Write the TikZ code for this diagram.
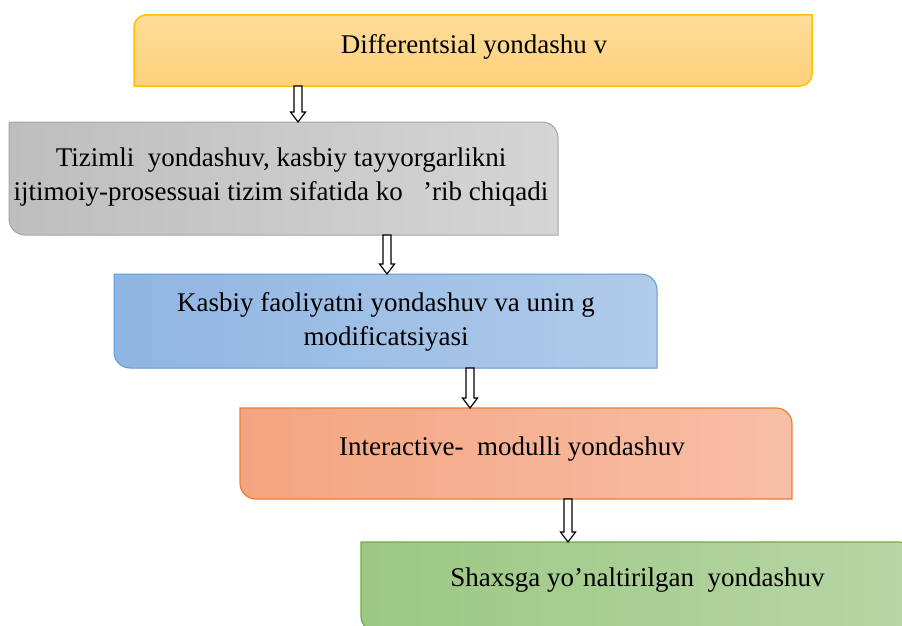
\documentclass[tikz,border=0pt]{standalone}
\usepackage{fontspec}
\setmainfont{Liberation Serif}
\usetikzlibrary{calc}
\definecolor{ylTop}{RGB}{254,220,154}
\definecolor{ylBot}{RGB}{254,209,122}
\definecolor{ylLine}{RGB}{255,192,0}
\definecolor{gyL}{RGB}{190,190,190}
\definecolor{gyR}{RGB}{213,213,213}
\definecolor{gyLine}{RGB}{165,165,165}
\definecolor{blL}{RGB}{143,181,226}
\definecolor{blR}{RGB}{177,203,234}
\definecolor{blLine}{RGB}{91,155,213}
\definecolor{orL}{RGB}{244,164,128}
\definecolor{orR}{RGB}{247,191,167}
\definecolor{orLine}{RGB}{237,125,49}
\definecolor{grL}{RGB}{156,200,131}
\definecolor{grR}{RGB}{183,214,166}
\definecolor{grLine}{RGB}{112,173,71}
\tikzset{
  boxnode/.style={rectangle, inner sep=0pt, outer sep=0pt, draw=none},
  lbl/.style={inner sep=0pt, anchor=base, align=center, font=\fontsize{27}{34}\selectfont},
  barrow/.style={draw=black, fill=white, line width=1.2pt, line join=miter},
}
% box with rounded top-left and bottom-right corners
\newcommand\boxTLBR[3]{\path[#3] ([yshift=-#2pt]#1.north west) arc(180:90:#2) -- (#1.north east) -- ([yshift=#2pt]#1.south east) arc(0:-90:#2) -- (#1.south west) -- cycle;}
% box with rounded top-right and bottom-left corners
\newcommand\boxTRBL[3]{\path[#3] (#1.north west) -- ([xshift=-#2pt]#1.north east) arc(90:0:#2) -- (#1.south east) -- ([xshift=#2pt]#1.south west) arc(270:180:#2) -- cycle;}
% hollow block arrow
\newcommand\blockarr[2]{\draw[barrow] ($(#1)+(-4,0)$) -- ($(#2)+(-4,10)$) -- ($(#2)+(-7.5,10)$) -- (#2) -- ($(#2)+(7.5,10)$) -- ($(#2)+(4,10)$) -- ($(#1)+(4,0)$) -- cycle;}
\begin{document}
\begin{tikzpicture}[x=1pt,y=1pt]
\clip (0,0) rectangle (902,-626);
\useasboundingbox (0,0) rectangle (902,-626);
\fill[white] (0,0) rectangle (902,-626);
% box placeholders
\node[boxnode, minimum width=678pt, minimum height=71pt] (n1) at (473,-50.5) {};
\node[boxnode, minimum width=549pt, minimum height=113pt] (n2) at (283.5,-178.5) {};
\node[boxnode, minimum width=543pt, minimum height=94pt] (n3) at (385.5,-321) {};
\node[boxnode, minimum width=552pt, minimum height=91pt] (n4) at (516,-453.5) {};
\node[boxnode, minimum width=553pt, minimum height=90pt] (n5) at (637.5,-587) {};
% shapes
\boxTLBR{n1}{12}{top color=ylTop, bottom color=ylBot, draw=ylLine, line width=1.5pt}
\boxTRBL{n2}{16}{left color=gyL, right color=gyR, draw=gyLine, line width=1pt}
\boxTRBL{n3}{16}{left color=blL, right color=blR, draw=blLine, line width=1pt}
\boxTRBL{n4}{16}{left color=orL, right color=orR, draw=orLine, line width=1.2pt}
\boxTRBL{n5}{16}{left color=grL, right color=grR, draw=grLine, line width=1.2pt}
% texts (base anchor of a two-line node is the last line's baseline)
\node[lbl] (t1) at (474,-53.3) {Differentsial yondashu v};
\node[lbl] (t2) at (281,-200) {Tizimli\ \ yondashuv, kasbiy tayyorgarlikni\\ijtimoiy-prosessuai tizim sifatida ko\ \ \ ’rib chiqadi};
\node[lbl] (t3) at (386,-345) {Kasbiy faoliyatni yondashuv va unin g\\modificatsiyasi};
\node[lbl] (t4) at (512,-455) {Interactive-\ \ modulli yondashuv};
\node[lbl] (t5) at (637.5,-586.7) {Shaxsga yo’naltirilgan\ \ yondashuv};
% arrows
\coordinate (ax1) at (298,0);
\coordinate (ax2) at (387,0);
\coordinate (ax3) at (470,0);
\coordinate (ax4) at (568,0);
\coordinate (a1s) at (n1.south -| ax1);
\coordinate (a1e) at (n2.north -| ax1);
\coordinate (a2s) at (n2.south -| ax2);
\coordinate (a2e) at (n3.north -| ax2);
\coordinate (a3s) at (n3.south -| ax3);
\coordinate (a3e) at (n4.north -| ax3);
\coordinate (a4s) at (n4.south -| ax4);
\coordinate (a4e) at (n5.north -| ax4);
\blockarr{a1s}{a1e}
\blockarr{a2s}{a2e}
\blockarr{a3s}{a3e}
\blockarr{a4s}{a4e}
\end{tikzpicture}
\end{document}
